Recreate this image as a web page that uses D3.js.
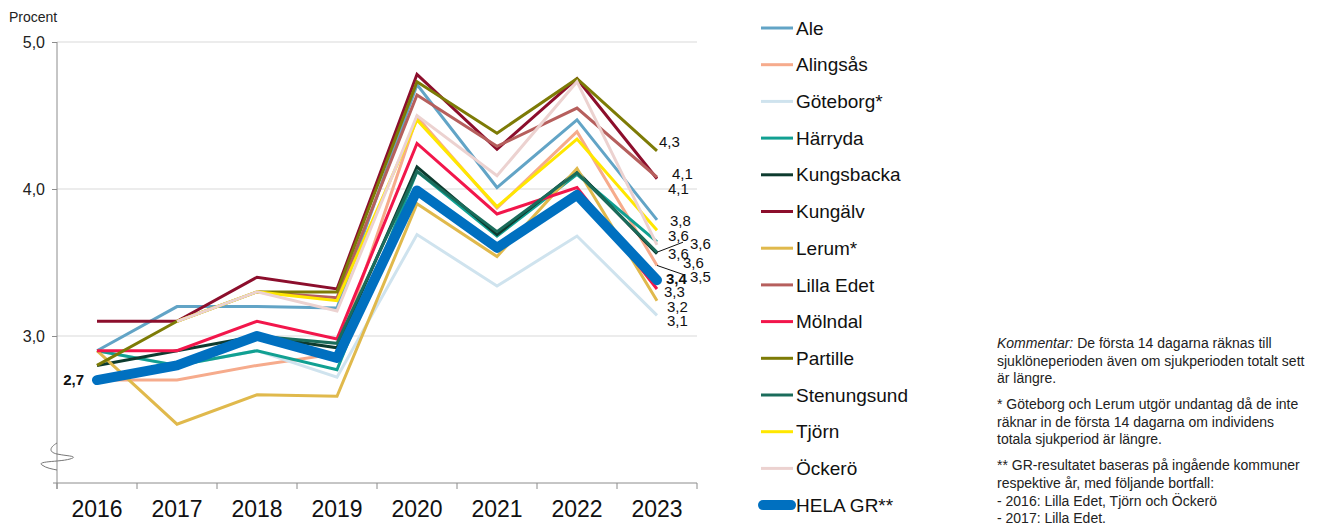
<!DOCTYPE html>
<html>
<head>
<meta charset="utf-8">
<title>Sjukfrånvaro - sjuklöneperioden</title>
<script src="https://d3js.org/d3.v7.min.js"></script>
<style>
  body { margin: 0; background: #fff; }
  svg { font-family: "Liberation Sans", Arial, sans-serif; }
</style>
</head>
<body>
<svg width="1319" height="524"></svg>
<script>
    // data (procent)
    var years = ["2016", "2017", "2018", "2019", "2020", "2021", "2022", "2023"];
    var names = ["Ale", "Alingsås", "Göteborg*", "Härryda", "Kungsbacka", "Kungälv", "Lerum*",
                 "Lilla Edet", "Mölndal", "Partille", "Stenungsund", "Tjörn", "Öckerö", "HELA GR**"];

    var ale         = [2.9, 3.2, 3.2, 3.19, 4.71, 4.01, 4.47, 3.79];
    var alingsas    = [2.7, 2.7, 2.8, 2.88, 4.49, 3.87, 4.39, 3.48];
    var goteborg    = [2.9, 2.8, 2.9, 2.72, 3.69, 3.34, 3.68, 3.14];
    var harryda     = [2.9, 2.8, 2.9, 2.77, 4.12, 3.68, 4.10, 3.64];
    var kungsbacka  = [2.8, 2.9, 3.0, 2.92, 4.15, 3.69, 4.12, 3.56];
    var kungalv     = [3.1, 3.1, 3.4, 3.32, 4.78, 4.27, 4.75, 4.07];
    var lerum       = [2.9, 2.4, 2.6, 2.59, 3.90, 3.54, 4.14, 3.24];
    var lillaEdet   = [null, null, 3.3, 3.26, 4.64, 4.29, 4.55, 4.08];
    var molndal     = [2.9, 2.9, 3.1, 2.98, 4.31, 3.83, 4.01, 3.32];
    var partille    = [2.8, 3.1, 3.3, 3.30, 4.73, 4.38, 4.75, 4.26];
    var stenungsund = [2.7, 2.8, 3.0, 2.95, 4.12, 3.71, 4.11, 3.57];
    var tjorn       = [null, 3.1, 3.3, 3.24, 4.47, 3.88, 4.34, 3.72];
    var ockero      = [null, 3.1, 3.3, 3.17, 4.50, 4.09, 4.73, 3.62];
    var helaGR      = [2.7, 2.8, 3.0, 2.85, 3.99, 3.60, 3.96, 3.38];

    var yTicks = [3, 4, 5];

    var allValues = [ale, alingsas, goteborg, harryda, kungsbacka, kungalv, lerum,
                     lillaEdet, molndal, partille, stenungsund, tjorn, ockero, helaGR];

    var colors = ["#62a4c6", "#f6ab8c", "#cfe3ee", "#11a092", "#0d3b2f", "#8c0e2c", "#e0b94c",
                  "#b65f5d", "#f2164b", "#7d7b06", "#1a6c5b", "#ffe700", "#ecd2d0", "#0070c0"];

    var series = names.map(function(n, i) {
        return { name: n, values: years.map(function(y, j) { return { year: y, value: allValues[i][j] }; }) };
    });

    var svg = d3.select("svg");
    var plot = { x0: 57, x1: 697, y0: 42, y1: 483 };

    var x = d3.scaleBand().domain(years).range([plot.x0, plot.x1]);
    var y = d3.scaleLinear().domain([2, 5]).range([plot.y1, plot.y0]);
    var color = d3.scaleOrdinal(names, colors);
    var fmt = function(v) { return d3.format(".1f")(v).replace(".", ","); };

    // grid lines
    svg.append("g").selectAll("line")
        .data(yTicks)
        .enter().append("line")
        .attr("x1", plot.x0).attr("x2", plot.x1)
        .attr("y1", function(d) { return y(d); })
        .attr("y2", function(d) { return y(d); })
        .attr("stroke", "#d9d9d9").attr("stroke-width", 1);

    // y axis
    var yAxis = svg.append("g")
        .attr("transform", "translate(" + plot.x0 + ",0)")
        .call(d3.axisLeft(y).tickValues(yTicks).tickFormat(fmt).tickSize(5).tickPadding(7));
    yAxis.select(".domain").remove();
    yAxis.selectAll(".tick line").attr("stroke", "#8c8c8c");
    yAxis.selectAll("text").attr("font-size", 16).attr("fill", "#222").attr("font-family", "Liberation Sans");
    svg.append("line")
        .attr("x1", plot.x0).attr("x2", plot.x0).attr("y1", plot.y0).attr("y2", plot.y1 + 6)
        .attr("stroke", "#8c8c8c");

    svg.append("text")
        .attr("x", 9).attr("y", 22)
        .attr("font-size", 14).attr("fill", "#222")
        .text("Procent");

    // axis break
    svg.append("path")
        .attr("d", "M57,443 C50,447 48,452 57,454 C66,456 80,456 70,459 C60,462 36,461 42,465 C46,468 52,469 57,470")
        .attr("fill", "none").attr("stroke", "#777").attr("stroke-width", 1);

    // x axis
    var xAxis = svg.append("g")
        .attr("transform", "translate(0," + plot.y1 + ")")
        .call(d3.axisBottom(x).tickSize(0).tickPadding(18));
    xAxis.select(".domain").remove();
    xAxis.selectAll("text").attr("font-size", 23).attr("fill", "#111").attr("font-family", "Liberation Sans");
    svg.append("line")
        .attr("x1", plot.x0 - 4).attr("x2", plot.x1).attr("y1", plot.y1).attr("y2", plot.y1)
        .attr("stroke", "#8c8c8c");
    svg.append("g").selectAll("line")
        .data(years.concat(["end"]))
        .enter().append("line")
        .attr("x1", function(d) { return d === "end" ? plot.x1 : x(d); })
        .attr("x2", function(d) { return d === "end" ? plot.x1 : x(d); })
        .attr("y1", plot.y1).attr("y2", plot.y1 + 6)
        .attr("stroke", "#8c8c8c");

    // lines
    var line = d3.line()
        .defined(function(d) { return d.value != null; })
        .x(function(d) { return x(d.year) + x.bandwidth() / 2; })
        .y(function(d) { return y(d.value); });

    svg.append("g").selectAll("path")
        .data(series)
        .enter().append("path")
        .attr("d", function(d) { return line(d.values); })
        .attr("fill", "none")
        .attr("stroke", function(d) { return color(d.name); })
        .attr("stroke-width", function(d) { return d.name === "HELA GR**" ? 10 : 3; })
        .attr("stroke-linecap", function(d) { return d.name === "HELA GR**" ? "round" : "butt"; })
        .attr("stroke-linejoin", function(d) { return d.name === "HELA GR**" ? "round" : "miter"; });

    // end labels (offsets from last point, px)
    var endLabel = {
        "Partille": [2, -9], "Kungälv": [15, -5], "Lilla Edet": [11, 12], "Ale": [13, 1],
        "Härryda": [11, -6], "Stenungsund": [33, -8], "Kungsbacka": [11, 0], "Öckerö": [26, 18],
        "Alingsås": [33, 11], "HELA GR**": [9, -1], "Mölndal": [7, 3], "Lerum*": [10, 6],
        "Göteborg*": [10, 5]
    };
    var leaders = ["Stenungsund", "Alingsås"];
    var last = years.length - 1;
    var lx = x(years[last]) + x.bandwidth() / 2;

    var labelled = series.filter(function(d) { return endLabel[d.name]; });
    svg.append("g").selectAll("line")
        .data(labelled.filter(function(d) { return leaders.indexOf(d.name) >= 0; }))
        .enter().append("line")
        .attr("x1", lx)
        .attr("y1", function(d) { return y(d.values[last].value); })
        .attr("x2", function(d) { return lx + endLabel[d.name][0] - 7; })
        .attr("y2", function(d) { return y(d.values[last].value) + endLabel[d.name][1] - 2; })
        .attr("stroke", "#111").attr("stroke-width", 1);

    svg.append("g").selectAll("text")
        .data(labelled)
        .enter().append("text")
        .attr("x", function(d) { return lx + endLabel[d.name][0]; })
        .attr("y", function(d) { return y(d.values[last].value) + endLabel[d.name][1]; })
        .attr("dy", "0.35em")
        .attr("font-size", 15)
        .attr("font-weight", function(d) { return d.name === "HELA GR**" ? "bold" : "normal"; })
        .attr("fill", "#111")
        .text(function(d) { return fmt(d.values[last].value); });

    // start label for HELA GR
    svg.append("text")
        .attr("x", x(years[0]) + x.bandwidth() / 2 - 13)
        .attr("y", y(helaGR[0]))
        .attr("dy", "0.35em")
        .attr("text-anchor", "end")
        .attr("font-size", 15).attr("font-weight", "bold").attr("fill", "#111")
        .text(fmt(helaGR[0]));

    // legend
    var legend = svg.append("g").selectAll("g")
        .data(names)
        .enter().append("g")
        .attr("transform", function(d, i) { return "translate(761," + (28 + i * 36.7) + ")"; });
    legend.append("line")
        .attr("x1", function(d) { return d === "HELA GR**" ? 2 : 0; })
        .attr("x2", function(d) { return d === "HELA GR**" ? 30 : 32; })
        .attr("stroke", function(d) { return color(d); })
        .attr("stroke-width", function(d) { return d === "HELA GR**" ? 10 : 3; })
        .attr("stroke-linecap", function(d) { return d === "HELA GR**" ? "round" : "butt"; });
    legend.append("text")
        .attr("x", 35).attr("dy", "0.35em")
        .attr("font-size", 19).attr("fill", "#111")
        .text(function(d) { return d; });

    // comment
    var comment = [
        [{ t: "Kommentar:", i: true }, { t: " De första 14 dagarna räknas till" }],
        [{ t: "sjuklöneperioden även om sjukperioden totalt sett" }],
        [{ t: "är längre." }],
        null,
        [{ t: "* Göteborg och Lerum utgör undantag då de inte" }],
        [{ t: "räknar in de första 14 dagarna om individens" }],
        [{ t: "totala sjukperiod är längre." }],
        null,
        [{ t: "** GR-resultatet baseras på ingående kommuner" }],
        [{ t: "respektive år, med följande bortfall:" }],
        [{ t: "- 2016: Lilla Edet, Tjörn och Öckerö" }],
        [{ t: "- 2017: Lilla Edet." }]
    ];
    var cy = 343;
    var cg = svg.append("g");
    comment.forEach(function(row) {
        if (row === null) { cy += 8; return; }
        var t = cg.append("text").attr("x", 997).attr("y", cy).attr("dy", "0.35em")
            .attr("font-size", 14).attr("fill", "#222");
        row.forEach(function(p) {
            t.append("tspan").attr("font-style", p.i ? "italic" : "normal").text(p.t);
        });
        cy += 17.7;
    });
</script>
</body>
</html>
